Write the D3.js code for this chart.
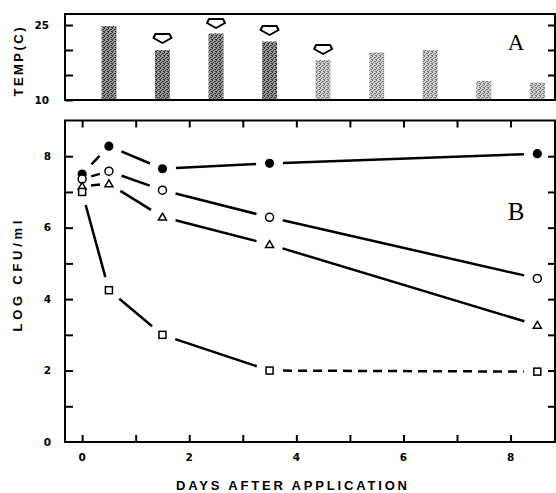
<!DOCTYPE html>
<html><head><meta charset="utf-8">
<script src="https://cdn.jsdelivr.net/npm/d3@7"></script>
<style>
html,body{margin:0;padding:0;background:#fff;}
svg{display:block;}
</style></head>
<body>
<svg id="chart" width="556" height="493"></svg>
<script>
// ---- data ----
const days = [0, 0.5, 1.5, 3.5, 8.5];
const filledCircle = [7.5, 8.28, 7.65, 7.8, 8.07];
const openCircle = [7.36, 7.58, 7.05, 6.29, 4.58];
const triangle = [7.16, 7.23, 6.3, 5.53, 3.27];
const square = [7.0, 4.25, 3.0, 2.0, 1.97];

const barDays = [0.5, 1.5, 2.5, 3.5, 4.5, 5.5, 6.5, 7.5, 8.5];
const barTemps = [24.8, 20.0, 23.3, 21.7, 18.0, 19.5, 20.0, 13.8, 13.5];
const arrowDays = [1.5, 2.5, 3.5, 4.5];
const arrowTemps = [22.4, 25.4, 24.0, 20.2];

const xTickLabels = [0, 2, 4, 6, 8];
const yTickLabels = [0, 2, 4, 6, 8];
const tempTickLabels = [10, 25];

// ---- layout ----
const svg = d3.select("#chart");
const L = 65, R = 555;
const x = d3.scaleLinear().domain([-0.32, 8.83]).range([L, R]);
const yB = d3.scaleLinear().domain([0, 9]).range([442, 120.5]);
const yA = d3.scaleLinear().domain([10, 27.2]).range([100, 14]);

const defs = svg.append("defs");
function stipple(id, bg, dot) {
  const p = defs.append("pattern").attr("id", id).attr("patternUnits", "userSpaceOnUse")
    .attr("width", 4).attr("height", 4);
  p.append("rect").attr("width", 4).attr("height", 4).attr("fill", bg);
  [[0,0],[2,1],[1,2],[3,3],[0,3],[3,1]].forEach(([a,b]) =>
    p.append("rect").attr("x", a).attr("y", b).attr("width", 1).attr("height", 1).attr("fill", dot));
}
stipple("dark", "#9a9a9a", "#333");
stipple("light", "#d0d0d0", "#777");

const font = '"DejaVu Sans","Liberation Sans",Arial,sans-serif';
const lfont = '"Liberation Sans",Arial,sans-serif';

// ---------- Panel A ----------
const gA = svg.append("g");
gA.selectAll("rect.bar").data(barDays).join("rect").attr("class", "bar")
  .attr("x", d => x(d) - 7.5).attr("width", 15)
  .attr("y", (d, i) => yA(barTemps[i]))
  .attr("height", (d, i) => yA(10) - yA(barTemps[i]))
  .attr("fill", (d, i) => i < 4 ? "url(#dark)" : "url(#light)");
gA.selectAll("path.arrow").data(arrowDays).join("path").attr("class", "arrow")
  .attr("transform", (d, i) => `translate(${x(d)},${yA(arrowTemps[i])})`)
  .attr("d", "M-7,-4 L7,-4 L9,0 L0,5 L-9,0 Z")
  .attr("fill", "#fff").attr("stroke", "#000").attr("stroke-width", 2).attr("stroke-linejoin", "round");
gA.append("rect").attr("x", L).attr("y", yA(27.2)).attr("width", R - L).attr("height", yA(10) - yA(27.2))
  .attr("fill", "none").attr("stroke", "#000").attr("stroke-width", 2);
const aLeft = gA.append("g").attr("transform", `translate(${L},0)`)
  .call(d3.axisRight(yA).tickValues([10, 15, 20, 25]).tickSize(8).tickFormat(""));
aLeft.select(".domain").remove();
aLeft.selectAll("line").attr("stroke-width", 2);
const aRight = gA.append("g").attr("transform", `translate(${R},0)`)
  .call(d3.axisLeft(yA).tickValues([15, 20, 25]).tickSize(7).tickFormat(""));
aRight.select(".domain").remove();
aRight.selectAll("line").attr("stroke-width", 2);
gA.selectAll("text.tl").data(tempTickLabels).join("text").attr("class", "tl")
  .attr("x", 49).attr("y", d => yA(d)).attr("dy", "0.36em").attr("text-anchor", "end")
  .attr("font-family", font).attr("font-weight", "bold").attr("font-size", 10.5).text(d => d);
gA.append("text").attr("transform", "translate(22.5,62) rotate(-90)").attr("text-anchor", "middle")
  .attr("font-family", lfont).attr("font-weight", "bold").attr("font-size", 13)
  .attr("textLength", 69).attr("lengthAdjust", "spacing").text("TEMP(C)");
gA.append("text").attr("x", 516).attr("y", 50).attr("text-anchor", "middle")
  .attr("font-family", '"Liberation Serif","Times New Roman",serif').attr("font-size", 23).text("A");

// ---------- Panel B ----------
const gB = svg.append("g");
gB.append("rect").attr("x", L).attr("y", yB(9)).attr("width", R - L).attr("height", yB(0) - yB(9))
  .attr("fill", "none").attr("stroke", "#000").attr("stroke-width", 2);
const intTicks = d3.range(0, 9);
const bx = gB.append("g").attr("transform", `translate(0,${yB(0)})`)
  .call(d3.axisTop(x).tickValues(intTicks).tickSize(7).tickFormat(""));
bx.select(".domain").remove(); bx.selectAll("line").attr("stroke-width", 2);
const tx = gB.append("g").attr("transform", `translate(0,${yB(9)})`)
  .call(d3.axisBottom(x).tickValues(intTicks).tickSize(7).tickFormat(""));
tx.select(".domain").remove(); tx.selectAll("line").attr("stroke-width", 2);
const ly = gB.append("g").attr("transform", `translate(${L},0)`)
  .call(d3.axisRight(yB).tickValues(d3.range(1, 9)).tickSize(8).tickFormat(""));
ly.select(".domain").remove(); ly.selectAll("line").attr("stroke-width", 2);
const ry = gB.append("g").attr("transform", `translate(${R},0)`)
  .call(d3.axisLeft(yB).tickValues(d3.range(1, 9)).tickSize(7).tickFormat(""));
ry.select(".domain").remove(); ry.selectAll("line").attr("stroke-width", 2);

gB.selectAll("text.xl").data(xTickLabels).join("text").attr("class", "xl")
  .attr("x", d => x(d)).attr("y", 461).attr("text-anchor", "middle")
  .attr("font-family", font).attr("font-weight", "bold").attr("font-size", 10.5).text(d => d);
gB.selectAll("text.yl").data(yTickLabels).join("text").attr("class", "yl")
  .attr("x", 51).attr("y", d => yB(d)).attr("dy", "0.36em").attr("text-anchor", "end")
  .attr("font-family", font).attr("font-weight", "bold").attr("font-size", 10.5).text(d => d);
gB.append("text").attr("x", 176).attr("y", 490).attr("text-anchor", "start")
  .attr("font-family", lfont).attr("font-weight", "bold").attr("font-size", 13)
  .attr("textLength", 231).attr("lengthAdjust", "spacing").text("DAYS AFTER APPLICATION");
gB.append("text").attr("transform", "translate(22,276) rotate(-90)").attr("text-anchor", "middle")
  .attr("font-family", lfont).attr("font-weight", "bold").attr("font-size", 13)
  .attr("textLength", 111).attr("lengthAdjust", "spacing").text("LOG CFU/ml");
gB.append("text").attr("x", 516).attr("y", 220).attr("text-anchor", "middle")
  .attr("font-family", '"Liberation Serif","Times New Roman",serif').attr("font-size", 25).text("B");

// series lines with gaps
const series = [
  {vals: filledCircle, type: "fc"},
  {vals: openCircle, type: "oc"},
  {vals: triangle, type: "tr"},
  {vals: square, type: "sq"}
];
const gap = 13.5;
series.forEach(s => {
  const pts = days.map((d, i) => [x(d), yB(s.vals[i])]);
  for (let i = 0; i < pts.length - 1; i++) {
    const [x1, y1] = pts[i], [x2, y2] = pts[i + 1];
    const len = Math.hypot(x2 - x1, y2 - y1);
    const g0 = Math.min(gap, (len - 9) / 2);
    const ux = (x2 - x1) / len, uy = (y2 - y1) / len;
    gB.append("line")
      .attr("x1", x1 + ux * g0).attr("y1", y1 + uy * g0)
      .attr("x2", x2 - ux * g0).attr("y2", y2 - uy * g0)
      .attr("stroke", "#000").attr("stroke-width", 2.5)
      .attr("stroke-dasharray", (s.type === "sq" && i === pts.length - 2) ? "9,6" : null);
  }
  const g = gB.append("g");
  pts.forEach(([px, py]) => {
    if (s.type === "fc") g.append("circle").attr("cx", px).attr("cy", py).attr("r", 4.6).attr("fill", "#000");
    if (s.type === "oc") g.append("circle").attr("cx", px).attr("cy", py).attr("r", 4)
      .attr("fill", "#fff").attr("stroke", "#000").attr("stroke-width", 1.5);
    if (s.type === "tr") g.append("path").attr("transform", `translate(${px},${py})`)
      .attr("d", "M0,-3.8 L4,3 L-4,3 Z").attr("fill", "#fff").attr("stroke", "#000").attr("stroke-width", 1.5);
    if (s.type === "sq") g.append("rect").attr("x", px - 3.5).attr("y", py - 3.5).attr("width", 7).attr("height", 7)
      .attr("fill", "#fff").attr("stroke", "#000").attr("stroke-width", 1.5);
  });
});
</script>
</body></html>
